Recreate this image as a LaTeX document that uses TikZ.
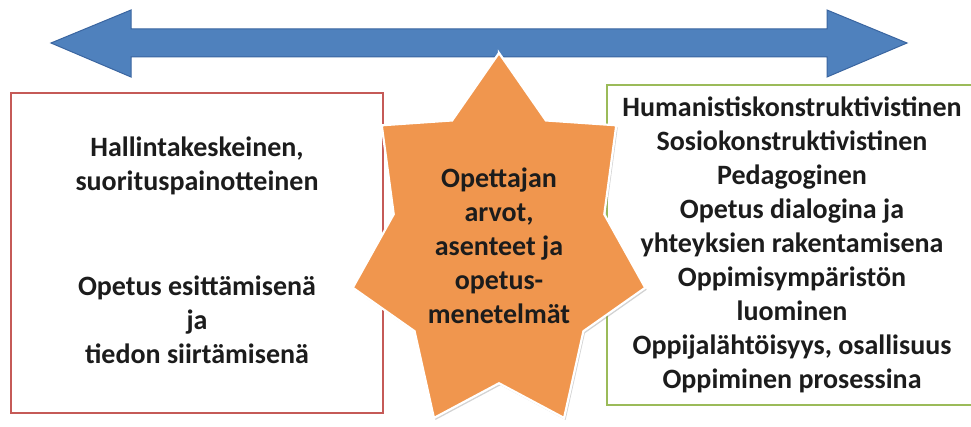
\documentclass[tikz,border=0pt]{standalone}
\usepackage{fontspec}
\setmainfont{Carlito}
\usetikzlibrary{shadows}
\definecolor{arrowblue}{HTML}{4F81BD}
\definecolor{arrowedge}{HTML}{3A65A0}
\definecolor{starorange}{HTML}{F0964E}
\definecolor{boxred}{HTML}{C55A57}
\definecolor{boxgreen}{HTML}{9BBB59}
\definecolor{textdark}{HTML}{1C1C1C}
\tikzset{
  label text/.style={align=center, text=textdark, inner sep=0pt,
    font=\fontsize{28}{34}\selectfont\bfseries},
  frame box/.style={line width=1.8pt, fill=white},
  star body/.style={fill=starorange, draw=white, line width=2.2pt, line join=miter,
    drop shadow={opacity=0.35, shadow xshift=1.5pt, shadow yshift=-2pt}},
}
\begin{document}
\begin{tikzpicture}[x=1pt, y=-1pt]
  \useasboundingbox (0,0) rectangle (971,427);
  \clip (0,0) rectangle (971,427);

  % double-headed arrow across the top
  \filldraw[fill=arrowblue, draw=arrowedge, line width=1pt, line join=miter]
    (51,43) -- (131,10) -- (131,29) -- (827,29) -- (827,10) -- (907,43)
    -- (827,77) -- (827,57) -- (131,57) -- (131,77) -- cycle;

  % left and right frames
  \draw[frame box, draw=boxred] (11,93) rectangle (383,413);
  \draw[frame box, draw=boxgreen] (607,85) rectangle (980,405);

  % seven-pointed star in the middle
  \begin{scope}[shift={(499,245)}]
    \path[star body] (-90:150 and 192)
      \foreach \k in {0,...,6} {
        -- ({-90+25.714+\k*51.4286}:{150*0.72} and {192*0.72})
        -- ({-90+(\k+1)*51.4286}:150 and 192)
      } -- cycle;
  \end{scope}

  % texts
  \node[label text] (leftA) at (197,166) {Hallintakeskeinen,\\suorituspainotteinen};
  \node[label text] (leftB) at (197,320) {Opetus esittämisenä\\ja\\tiedon siirtämisenä};
  \node[label text] (centre) at (499,246) {Opettajan\\arvot,\\asenteet ja\\opetus-\\menetelmät};
  \node[label text] (right) at (792,245) {Humanistiskonstruktivistinen\\Sosiokonstruktivistinen\\Pedagoginen\\Opetus dialogina ja\\yhteyksien rakentamisena\\Oppimisympäristön\\luominen\\Oppijalähtöisyys, osallisuus\\Oppiminen prosessina};
\end{tikzpicture}
\end{document}
